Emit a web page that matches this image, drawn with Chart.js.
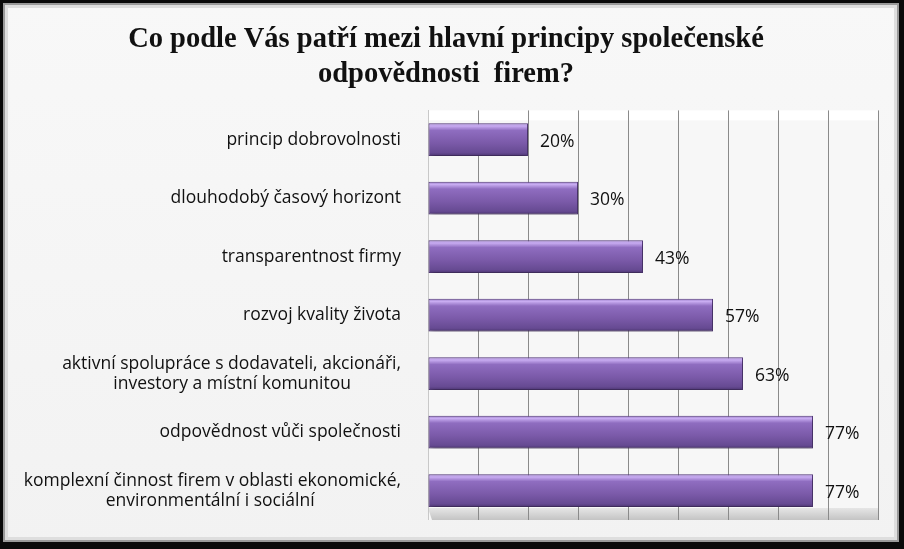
<!DOCTYPE html>
<html>
<head>
<meta charset="utf-8">
<script src="https://cdn.jsdelivr.net/npm/chart.js@4/dist/chart.umd.min.js"></script>
<style>
  html, body { margin: 0; padding: 0; background: #000; }
  #wrap { width: 904px; height: 549px; }
</style>
</head>
<body>
<div id="wrap"><canvas id="chart" width="904" height="549"></canvas></div>
<script>
// Survey answers (share of respondents)
const categories = [
  'princip dobrovolnosti',
  'dlouhodobý časový horizont',
  'transparentnost firmy',
  'rozvoj kvality života',
  ['aktivní spolupráce s dodavateli, akcionáři,', 'investory a místní komunitou'],
  'odpovědnost vůči společnosti',
  ['komplexní činnost firem v oblasti ekonomické,', 'environmentální i sociální']
];
const values = [20, 30, 43, 57, 63, 77, 77];
const valueLabels = ['20%', '30%', '43%', '57%', '63%', '77%', '77%'];
const titleLines = ['Co podle Vás patří mezi hlavní principy společenské', 'odpovědnosti  firem?'];

const BAR_PCT = 0.56;
const labelFont = "'Open Sans', 'Liberation Sans', sans-serif";
const labelSize = 17.5;

// two-line labels: centre the lines under each other (right aligned block)
const measureCtx = document.createElement('canvas').getContext('2d');
measureCtx.font = labelSize + 'px ' + labelFont;
function centreLines(label) {
  if (!Array.isArray(label)) return label;
  const widths = label.map(l => measureCtx.measureText(l).width);
  const maxW = Math.max(...widths);
  const sp = measureCtx.measureText(' ').width;
  return label.map((l, i) => l + ' '.repeat(Math.round((maxW - widths[i]) / 2 / sp)));
}
const axisLabels = categories.map(centreLines);

// frame + panel background
const framePlugin = {
  id: 'frame',
  beforeDraw(chart) {
    const { ctx, width, height, chartArea: a } = chart;
    ctx.save();
    ctx.fillStyle = '#0a0a0a';
    ctx.fillRect(0, 0, width, height);
    ctx.fillStyle = '#9a9a9a';
    ctx.fillRect(3, 3, width - 8, height - 10);
    const g = ctx.createLinearGradient(0, 0, 0, height);
    g.addColorStop(0, '#f8f8f8');
    g.addColorStop(1, '#f2f2f2');
    ctx.fillStyle = '#dedede';
    ctx.fillRect(5, 5, width - 12, height - 14);
    ctx.fillStyle = g;
    ctx.fillRect(8, 8, width - 18, height - 20);
    // back wall
    ctx.fillStyle = '#f7f7f7';
    ctx.fillRect(a.left, a.top, a.right - a.left, a.bottom - a.top);
    ctx.fillStyle = '#ffffff';
    ctx.fillRect(a.left, a.top, a.right - a.left, 10);
    // floor
    const fg = ctx.createLinearGradient(0, a.bottom - 12, 0, a.bottom);
    fg.addColorStop(0, '#e6e6e6');
    fg.addColorStop(1, '#c4c4c4');
    ctx.fillStyle = fg;
    ctx.beginPath();
    ctx.moveTo(a.left, a.bottom - 12);
    ctx.lineTo(a.right, a.bottom - 12);
    ctx.lineTo(a.right, a.bottom);
    ctx.lineTo(a.left + 4, a.bottom);
    ctx.closePath();
    ctx.fill();
    ctx.restore();
  }
};

// bar shadow
const shadowPlugin = {
  id: 'barShadow',
  beforeDatasetsDraw(chart) {
    const ctx = chart.ctx;
    ctx.save();
    ctx.shadowColor = 'rgba(0,0,0,0.35)';
    ctx.shadowBlur = 5;
    ctx.shadowOffsetX = 1;
    ctx.shadowOffsetY = 3;
  },
  afterDatasetsDraw(chart) {
    chart.ctx.restore();
  }
};

// percentage labels at bar ends
const valueLabelPlugin = {
  id: 'valueLabels',
  afterDatasetsDraw(chart) {
    const { ctx } = chart;
    const meta = chart.getDatasetMeta(0);
    ctx.save();
    ctx.font = labelSize + 'px ' + labelFont;
    ctx.fillStyle = '#111';
    ctx.textBaseline = 'middle';
    ctx.textAlign = 'left';
    meta.data.forEach((bar, i) => {
      ctx.fillText(valueLabels[i], bar.x + 12, bar.y + 2);
    });
    ctx.restore();
  }
};

function barFill(c) {
  const chart = c.chart;
  if (!chart.chartArea) return '#7a58a8';
  const yScale = chart.scales.y;
  const y = yScale.getPixelForValue(c.dataIndex);
  const h = (yScale.height / categories.length) * BAR_PCT;
  const g = chart.ctx.createLinearGradient(0, y - h / 2, 0, y + h / 2);
  g.addColorStop(0, '#9a7cc8');
  g.addColorStop(0.08, '#c9adf2');
  g.addColorStop(0.22, '#8f6dc0');
  g.addColorStop(0.6, '#7b5aa9');
  g.addColorStop(0.9, '#664a92');
  g.addColorStop(1, '#4b3470');
  return g;
}

new Chart(document.getElementById('chart'), {
  type: 'bar',
  data: {
    labels: axisLabels,
    datasets: [{
      data: values,
      backgroundColor: barFill,
      borderColor: '#553b7c',
      borderWidth: 1,
      borderSkipped: false,
      categoryPercentage: 1,
      barPercentage: BAR_PCT
    }]
  },
  options: {
    indexAxis: 'y',
    responsive: false,
    animation: false,
    layout: { padding: { left: 14, right: 26, top: 0, bottom: 24 } },
    plugins: {
      legend: { display: false },
      tooltip: { enabled: false },
      title: {
        display: true,
        text: titleLines,
        color: '#111',
        font: { family: "'Liberation Serif', 'Times New Roman', serif", size: 28.5, weight: 'bold', lineHeight: 1.2 },
        padding: { top: 23, bottom: 19 }
      }
    },
    scales: {
      x: {
        min: 0,
        max: 90,
        ticks: { display: false, stepSize: 10 },
        grid: { color: '#8a8a8a', lineWidth: 1, drawTicks: false },
        border: { display: false }
      },
      y: {
        afterFit(scale) { scale.width = 428 - 14; },
        ticks: {
          color: '#111',
          padding: 19,
          font: { family: labelFont, size: labelSize, lineHeight: 1.15 }
        },
        grid: { display: false },
        border: { display: true, color: '#c8c8c8' }
      }
    }
  },
  plugins: [framePlugin, shadowPlugin, valueLabelPlugin]
});
</script>
</body>
</html>
